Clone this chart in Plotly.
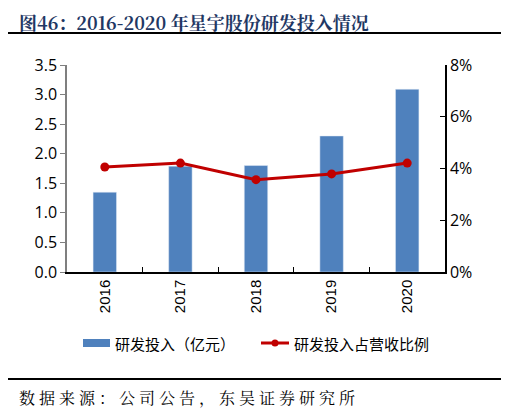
import plotly.graph_objects as go

# data
years = ["2016", "2017", "2018", "2019", "2020"]
rd_spend = [1.35, 1.79, 1.80, 2.30, 3.09]        # 亿元
rd_ratio = [4.06, 4.21, 3.57, 3.79, 4.21]        # %
ratio_ticks = [0, 2, 4, 6, 8]

BAR_BLUE = "#4F81BD"
LINE_RED = "#C00000"
CJK = "Noto Sans CJK SC"

# the page is drawn 8px in from the window corner, so work in window pixels
OFF = 8
W, H = 509 - OFF, 412 - OFF
L, R, T, B = 67, 445, 65, 272   # plot box in window pixels


def px_x(x):
    return (x - L) / (R - L)


def px_y(y):
    return (B - y) / (B - T)


fig = go.Figure()
fig.add_trace(go.Bar(
    x=years, y=rd_spend, name="研发投入（亿元）",
    marker_color=BAR_BLUE, width=0.31, showlegend=False,
))
fig.add_trace(go.Scatter(
    x=years, y=rd_ratio, name="研发投入占营收比例", yaxis="y2",
    mode="lines+markers", showlegend=False,
    line=dict(color=LINE_RED, width=3),
    marker=dict(color=LINE_RED, size=9),
))

fig.update_layout(
    width=W, height=H,
    margin=dict(l=L - OFF, r=W - (R - OFF), t=T - OFF, b=H - (B - OFF)),
    plot_bgcolor="white", paper_bgcolor="white",
    font=dict(family="Open Sans", size=16, color="black"),
    xaxis=dict(
        type="category", tickangle=-90, automargin=False,
        showline=True, linecolor="black", linewidth=1.5,
        ticks="inside", tickson="boundaries", ticklen=5, tickcolor="black",
        tickfont=dict(family="Liberation Sans", size=15),
    ),
    yaxis=dict(
        range=[0, 3.5], dtick=0.5, tickformat=".1f", automargin=False,
        showgrid=False, zeroline=False,
        showline=True, linecolor="#7f7f7f", linewidth=1.5,
        ticks="outside", ticklen=5, tickcolor="#7f7f7f",
    ),
    yaxis2=dict(
        overlaying="y", side="right", automargin=False,
        range=[0, 8], tickvals=ratio_ticks,
        ticktext=[f"{v}%" for v in ratio_ticks],
        showgrid=False, zeroline=False,
        showline=True, linecolor="black", linewidth=1.5,
        ticks="inside", ticklen=5, tickcolor="black",
    ),
)

# title, source and rules
fig.add_annotation(
    text="<b>图46：2016-2020 年星宇股份研发投入情况</b>",
    xref="paper", yref="paper", x=px_x(18), y=px_y(8.5),
    xanchor="left", yanchor="top", showarrow=False, borderpad=0,
    font=dict(family="Noto Serif CJK SC, " + CJK, size=18, color="#1F3864"),
)
fig.add_annotation(
    text='<span style="letter-spacing:4px">数据来源：公司公告，东吴证券研究所</span>',
    xref="paper", yref="paper", x=px_x(17), y=px_y(397),
    xanchor="left", yanchor="middle", showarrow=False,
    font=dict(family="Noto Serif CJK SC, " + CJK, size=16, color="black"),
)
for yy in (33, 379):
    fig.add_shape(
        type="line", xref="paper", yref="paper",
        x0=px_x(5), x1=px_x(503), y0=px_y(yy), y1=px_y(yy),
        line=dict(color="black", width=2),
    )

# legend drawn by hand to get the wide swatches
fig.add_shape(
    type="rect", xref="paper", yref="paper",
    x0=px_x(83), x1=px_x(110), y0=px_y(347), y1=px_y(339),
    fillcolor=BAR_BLUE, line_width=0,
)
fig.add_annotation(
    text="研发投入（亿元）", xref="paper", yref="paper",
    x=px_x(113), y=px_y(343), xanchor="left", yanchor="middle",
    showarrow=False, font=dict(family=CJK, size=15),
)
fig.add_shape(
    type="line", xref="paper", yref="paper",
    x0=px_x(261), x1=px_x(289), y0=px_y(343), y1=px_y(343),
    line=dict(color=LINE_RED, width=3),
)
fig.add_shape(
    type="circle", xref="paper", yref="paper",
    x0=px_x(271.5), x1=px_x(278.5), y0=px_y(346.5), y1=px_y(339.5),
    fillcolor=LINE_RED, line_width=0,
)
fig.add_annotation(
    text="研发投入占营收比例", xref="paper", yref="paper",
    x=px_x(292), y=px_y(343), xanchor="left", yanchor="middle",
    showarrow=False, font=dict(family=CJK, size=15),
)

fig.write_html("out.html")
